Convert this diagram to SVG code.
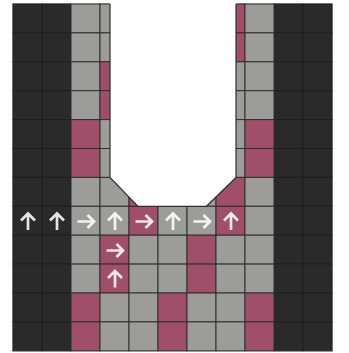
<svg xmlns="http://www.w3.org/2000/svg" width="349" height="353" viewBox="0 0 349 353">
  <style>
    .d { fill: #2a2a2a; stroke: #1e1e1e; stroke-width: 1; }
    .g { fill: #9c9d99; stroke: #2e2e2e; stroke-width: 1; }
    .p { fill: #9f4f69; stroke: #2e2e2e; stroke-width: 1; }
    .arr { fill: none; stroke: #ffffff; stroke-opacity: 0.88; stroke-width: 2.7; stroke-linejoin: miter; }
  </style>
  <defs>
    <g id="up"><path class="arr" d="M0,8.5 V-8 M-7,-1 L0,-8 L7,-1"/></g>
    <g id="right"><path class="arr" d="M-8.5,0 H8 M1.5,-6.5 L8,0 L1.5,6.5"/></g>
  </defs>
  <rect x="0" y="0" width="349" height="353" fill="#ffffff"/>
  <rect x="12.5" y="3.5" width="320" height="348" fill="none" stroke="#c8c8c8" stroke-width="1"/>
  <g id="cells">
    <g id="dark-left">
      <rect class="d" x="13" y="4" width="29" height="28.9"/><rect class="d" x="42" y="4" width="29" height="28.9"/>
      <rect class="d" x="13" y="32.9" width="29" height="28.9"/><rect class="d" x="42" y="32.9" width="29" height="28.9"/>
      <rect class="d" x="13" y="61.8" width="29" height="28.9"/><rect class="d" x="42" y="61.8" width="29" height="28.9"/>
      <rect class="d" x="13" y="90.7" width="29" height="28.9"/><rect class="d" x="42" y="90.7" width="29" height="28.9"/>
      <rect class="d" x="13" y="119.6" width="29" height="28.9"/><rect class="d" x="42" y="119.6" width="29" height="28.9"/>
      <rect class="d" x="13" y="148.5" width="29" height="28.9"/><rect class="d" x="42" y="148.5" width="29" height="28.9"/>
      <rect class="d" x="13" y="177.4" width="29" height="28.9"/><rect class="d" x="42" y="177.4" width="29" height="28.9"/>
      <rect class="d" x="13" y="206.3" width="29" height="28.9"/><rect class="d" x="42" y="206.3" width="29" height="28.9"/>
      <rect class="d" x="13" y="235.2" width="29" height="28.9"/><rect class="d" x="42" y="235.2" width="29" height="28.9"/>
      <rect class="d" x="13" y="264.1" width="29" height="28.9"/><rect class="d" x="42" y="264.1" width="29" height="28.9"/>
      <rect class="d" x="13" y="293" width="29" height="28.9"/><rect class="d" x="42" y="293" width="29" height="28.9"/>
      <rect class="d" x="13" y="321.9" width="29" height="28.9"/><rect class="d" x="42" y="321.9" width="29" height="28.9"/>
    </g>
    <g id="dark-right">
      <rect class="d" x="274" y="4" width="29" height="28.9"/><rect class="d" x="303" y="4" width="29" height="28.9"/>
      <rect class="d" x="274" y="32.9" width="29" height="28.9"/><rect class="d" x="303" y="32.9" width="29" height="28.9"/>
      <rect class="d" x="274" y="61.8" width="29" height="28.9"/><rect class="d" x="303" y="61.8" width="29" height="28.9"/>
      <rect class="d" x="274" y="90.7" width="29" height="28.9"/><rect class="d" x="303" y="90.7" width="29" height="28.9"/>
      <rect class="d" x="274" y="119.6" width="29" height="28.9"/><rect class="d" x="303" y="119.6" width="29" height="28.9"/>
      <rect class="d" x="274" y="148.5" width="29" height="28.9"/><rect class="d" x="303" y="148.5" width="29" height="28.9"/>
      <rect class="d" x="274" y="177.4" width="29" height="28.9"/><rect class="d" x="303" y="177.4" width="29" height="28.9"/>
      <rect class="d" x="274" y="206.3" width="29" height="28.9"/><rect class="d" x="303" y="206.3" width="29" height="28.9"/>
      <rect class="d" x="274" y="235.2" width="29" height="28.9"/><rect class="d" x="303" y="235.2" width="29" height="28.9"/>
      <rect class="d" x="274" y="264.1" width="29" height="28.9"/><rect class="d" x="303" y="264.1" width="29" height="28.9"/>
      <rect class="d" x="274" y="293" width="29" height="28.9"/><rect class="d" x="303" y="293" width="29" height="28.9"/>
      <rect class="d" x="274" y="321.9" width="29" height="28.9"/><rect class="d" x="303" y="321.9" width="29" height="28.9"/>
    </g>
    <g id="middle-top">
      <rect class="g" x="71" y="4" width="29" height="28.9"/><rect class="g" x="100" y="4" width="29" height="28.9"/><rect class="p" x="216" y="4" width="29" height="28.9"/><rect class="g" x="245" y="4" width="29" height="28.9"/>
      <rect class="g" x="71" y="32.9" width="29" height="28.9"/><rect class="g" x="100" y="32.9" width="29" height="28.9"/><rect class="p" x="216" y="32.9" width="29" height="28.9"/><rect class="g" x="245" y="32.9" width="29" height="28.9"/>
      <rect class="g" x="71" y="61.8" width="29" height="28.9"/><rect class="p" x="100" y="61.8" width="29" height="28.9"/><rect class="g" x="216" y="61.8" width="29" height="28.9"/><rect class="g" x="245" y="61.8" width="29" height="28.9"/>
      <rect class="g" x="71" y="90.7" width="29" height="28.9"/><rect class="p" x="100" y="90.7" width="29" height="28.9"/><rect class="g" x="216" y="90.7" width="29" height="28.9"/><rect class="g" x="245" y="90.7" width="29" height="28.9"/>
      <rect class="p" x="71" y="119.6" width="29" height="28.9"/><rect class="g" x="100" y="119.6" width="29" height="28.9"/><rect class="g" x="216" y="119.6" width="29" height="28.9"/><rect class="p" x="245" y="119.6" width="29" height="28.9"/>
      <rect class="p" x="71" y="148.5" width="29" height="28.9"/><rect class="g" x="100" y="148.5" width="29" height="28.9"/><rect class="g" x="216" y="148.5" width="29" height="28.9"/><rect class="p" x="245" y="148.5" width="29" height="28.9"/>
    </g>
    <g id="middle-bottom">
      <rect class="g" x="71" y="177.4" width="29" height="28.9"/><rect class="g" x="100" y="177.4" width="29" height="28.9"/><rect class="p" x="129" y="177.4" width="29" height="28.9"/><rect class="g" x="158" y="177.4" width="29" height="28.9"/><rect class="g" x="187" y="177.4" width="29" height="28.9"/><rect class="p" x="216" y="177.4" width="29" height="28.9"/><rect class="g" x="245" y="177.4" width="29" height="28.9"/>
      <rect class="g" x="71" y="206.3" width="29" height="28.9"/><rect class="g" x="100" y="206.3" width="29" height="28.9"/><rect class="p" x="129" y="206.3" width="29" height="28.9"/><rect class="g" x="158" y="206.3" width="29" height="28.9"/><rect class="g" x="187" y="206.3" width="29" height="28.9"/><rect class="p" x="216" y="206.3" width="29" height="28.9"/><rect class="g" x="245" y="206.3" width="29" height="28.9"/>
      <rect class="g" x="71" y="235.2" width="29" height="28.9"/><rect class="p" x="100" y="235.2" width="29" height="28.9"/><rect class="g" x="129" y="235.2" width="29" height="28.9"/><rect class="g" x="158" y="235.2" width="29" height="28.9"/><rect class="p" x="187" y="235.2" width="29" height="28.9"/><rect class="g" x="216" y="235.2" width="29" height="28.9"/><rect class="g" x="245" y="235.2" width="29" height="28.9"/>
      <rect class="g" x="71" y="264.1" width="29" height="28.9"/><rect class="p" x="100" y="264.1" width="29" height="28.9"/><rect class="g" x="129" y="264.1" width="29" height="28.9"/><rect class="g" x="158" y="264.1" width="29" height="28.9"/><rect class="p" x="187" y="264.1" width="29" height="28.9"/><rect class="g" x="216" y="264.1" width="29" height="28.9"/><rect class="g" x="245" y="264.1" width="29" height="28.9"/>
      <rect class="p" x="71" y="293" width="29" height="28.9"/><rect class="g" x="100" y="293" width="29" height="28.9"/><rect class="g" x="129" y="293" width="29" height="28.9"/><rect class="p" x="158" y="293" width="29" height="28.9"/><rect class="g" x="187" y="293" width="29" height="28.9"/><rect class="g" x="216" y="293" width="29" height="28.9"/><rect class="p" x="245" y="293" width="29" height="28.9"/>
      <rect class="p" x="71" y="321.9" width="29" height="28.9"/><rect class="g" x="100" y="321.9" width="29" height="28.9"/><rect class="g" x="129" y="321.9" width="29" height="28.9"/><rect class="p" x="158" y="321.9" width="29" height="28.9"/><rect class="g" x="187" y="321.9" width="29" height="28.9"/><rect class="g" x="216" y="321.9" width="29" height="28.9"/><rect class="p" x="245" y="321.9" width="29" height="28.9"/>
    </g>
  </g>
  <path id="cutout" d="M110,0 V177.4 L138,206.3 H206.5 L236,177.4 V0 Z" fill="#ffffff"/>
  <path d="M110,4 V177.4 L138,206.3 H206.5 L236,177.4 V4" fill="none" stroke="#2e2e2e" stroke-width="1.2"/>
  <rect x="110.6" y="0" width="124.8" height="3.5" fill="#ffffff"/>
  <g id="arrows">
    <use href="#up" x="28" y="221.5"/>
    <use href="#up" x="57" y="221.5"/>
    <use href="#right" x="86" y="221.5"/>
    <use href="#up" x="115" y="221.5"/>
    <use href="#right" x="144" y="221.5"/>
    <use href="#up" x="173" y="221.5"/>
    <use href="#right" x="202" y="221.5"/>
    <use href="#up" x="231" y="221.5"/>
    <use href="#right" x="115" y="250.5"/>
    <use href="#up" x="115" y="279"/>
  </g>
</svg>
